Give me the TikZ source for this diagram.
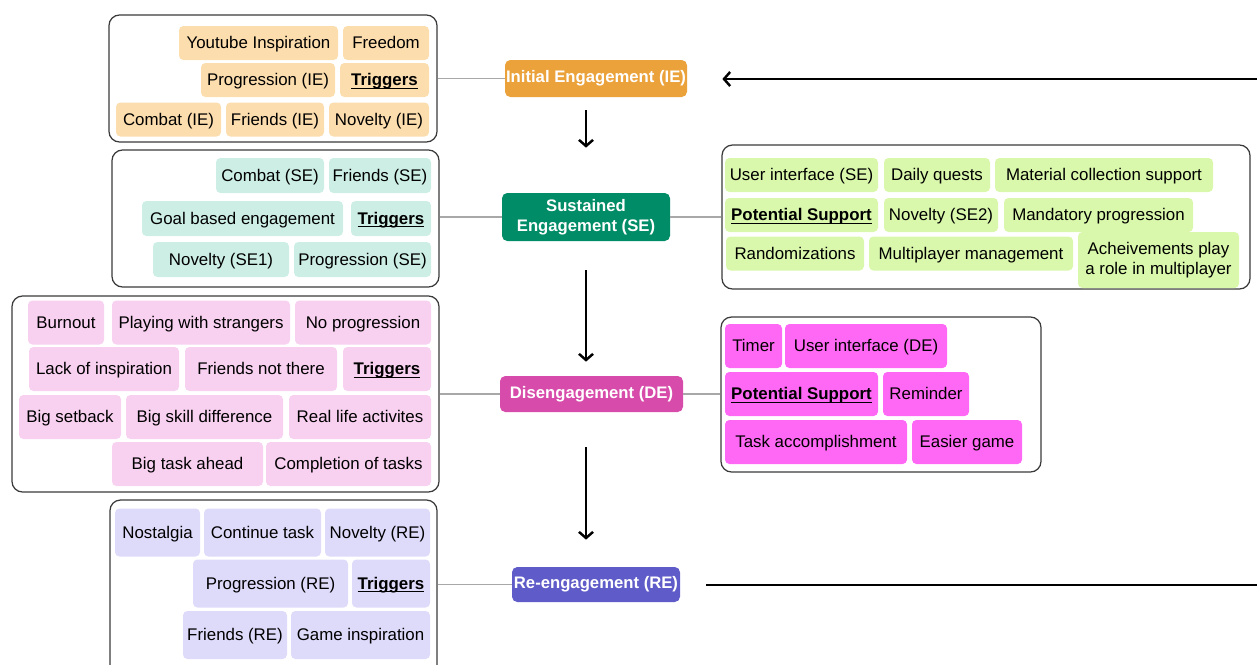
\documentclass[tikz,border=0pt]{standalone}
\usepackage{fontspec}
\setmainfont{Liberation Sans}
\usepackage{tikz}
\usetikzlibrary{arrows.meta,positioning,calc}

\definecolor{ieMain}{HTML}{EBA23A}
\definecolor{ieLight}{HTML}{FCDDAE}
\definecolor{seMain}{HTML}{008C66}
\definecolor{seLight}{HTML}{CDEEE5}
\definecolor{sesLight}{HTML}{D9F8AC}
\definecolor{deMain}{HTML}{D74BAA}
\definecolor{deLight}{HTML}{F8D0F0}
\definecolor{desLight}{HTML}{FF68F5}
\definecolor{reMain}{HTML}{5F5BC8}
\definecolor{reLight}{HTML}{DEDAFA}
\definecolor{boxgray}{HTML}{3A3A3A}
\definecolor{linkgray}{HTML}{A8A8A8}

\newcommand{\keyword}[1]{\underline{\smash{\textbf{#1}}}}

\begin{document}
\begin{tikzpicture}[x=0.02cm, y=-0.02cm,
    > = {Straight Barb[length=3.5pt,width=8pt]},
    every node/.style={font=\fontsize{9.6}{11.5}\selectfont, align=center},
    wd/.style={minimum width=#1*0.02cm},
    ht/.style={minimum height=#1*0.02cm},
    pill/.style={rounded corners=2.5pt, inner sep=0pt, text height=8.2pt, text depth=1.6pt},
    iePill/.style={pill, fill=ieLight, ht=34},
    sePill/.style={pill, fill=seLight, ht=35},
    sesPill/.style={pill, fill=sesLight, ht=34},
    dePill/.style={pill, fill=deLight, ht=44},
    desPill/.style={pill, fill=desLight, ht=44},
    rePill/.style={pill, fill=reLight, ht=48},
    group/.style={draw=boxgray, line width=0.7pt, rounded corners=6pt, inner sep=0pt},
    stage/.style={rounded corners=3pt, text=white, inner sep=0pt,
        font=\fontsize{9.5}{11.5}\selectfont\bfseries},
    link/.style={draw=linkgray, line width=0.8pt},
    flow/.style={->, line width=1.4pt}]
    \useasboundingbox (0,0) rectangle (1257,664);

    % group frames
    \node[group, wd=328, ht=127] (ieBox) at (273,78.5) {};
    \node[group, wd=327, ht=137] (seBox) at (275.5,218.5) {};
    \node[group, wd=528, ht=144] (sesBox) at (986,217) {};
    \node[group, wd=427, ht=196] (deBox) at (225.5,394) {};
    \node[group, wd=320, ht=155] (desBox) at (881,394.5) {};
    \node[group, wd=327, ht=200] (reBox) at (273.5,600) {};

    % stages
    \node[stage, fill=ieMain, wd=182, ht=37] (ie) at (596,78.5) {Initial Engagement (IE)};
    \node[stage, fill=seMain, wd=168, ht=48] (se) at (586,217) {Sustained\\Engagement (SE)};
    \node[stage, fill=deMain, wd=183, ht=36] (de) at (591.5,394) {Disengagement (DE)};
    \node[stage, fill=reMain, wd=168, ht=35] (re) at (596,584.5) {Re-engagement (RE)};

    % initial engagement triggers
    \node[iePill, wd=159] (ytInsp) at (258.5,43) {Youtube Inspiration};
    \node[iePill, wd=86] (freedom) at (386,43) {Freedom};
    \node[iePill, wd=134] (progIE) at (268,80) {Progression (IE)};
    \node[iePill, wd=89] (trigIE) at (384.5,80) {\keyword{Triggers}};
    \node[iePill, wd=105] (combatIE) at (168.5,119.5) {Combat (IE)};
    \node[iePill, wd=98] (friendsIE) at (275,119.5) {Friends (IE)};
    \node[iePill, wd=100] (noveltyIE) at (379,119.5) {Novelty (IE)};

    % sustained engagement triggers
    \node[sePill, wd=108] (combatSE) at (270,175.5) {Combat (SE)};
    \node[sePill, wd=102] (friendsSE) at (380,175.5) {Friends (SE)};
    \node[sePill, wd=201] (goalSE) at (242.5,218.5) {Goal based engagement};
    \node[sePill, wd=80] (trigSE) at (391,218.5) {\keyword{Triggers}};
    \node[sePill, wd=136] (noveltySE1) at (221,259.5) {Novelty (SE1)};
    \node[sePill, wd=137] (progSE) at (362.5,259.5) {Progression (SE)};

    % sustained engagement support
    \node[sesPill, wd=153] (uiSE) at (801.5,175) {User interface (SE)};
    \node[sesPill, wd=106] (daily) at (937,175) {Daily quests};
    \node[sesPill, wd=218] (material) at (1104,175) {Material collection support};
    \node[sesPill, wd=153] (potSE) at (801.5,215) {\keyword{Potential Support}};
    \node[sesPill, wd=114] (noveltySE2) at (941,215) {Novelty (SE2)};
    \node[sesPill, wd=189] (mandatory) at (1098.5,215) {Mandatory progression};
    \node[sesPill, wd=138] (random) at (795,253.5) {Randomizations};
    \node[sesPill, wd=204] (multi) at (971,253.5) {Multiplayer management};
    \node[sesPill, wd=161, ht=56, text height={}, text depth={}] (achieve) at (1158.5,260)
        {Acheivements play\\a role in multiplayer};

    % disengagement triggers
    \node[dePill, wd=76] (burnout) at (66,322.5) {Burnout};
    \node[dePill, wd=178] (strangers) at (201,322.5) {Playing with strangers};
    \node[dePill, wd=136] (noProg) at (363,322.5) {No progression};
    \node[dePill, wd=150] (lack) at (104,369) {Lack of inspiration};
    \node[dePill, wd=152] (friendsNot) at (261,369) {Friends not there};
    \node[dePill, wd=88] (trigDE) at (387,369) {\keyword{Triggers}};
    \node[dePill, wd=102] (setback) at (70,417) {Big setback};
    \node[dePill, wd=157] (skill) at (204.5,417) {Big skill difference};
    \node[dePill, wd=142] (realLife) at (360,417) {Real life activites};
    \node[dePill, wd=151] (bigTask) at (187.5,464) {Big task ahead};
    \node[dePill, wd=165] (completion) at (348.5,464) {Completion of tasks};

    % disengagement support
    \node[desPill, wd=57] (timer) at (753.5,346) {Timer};
    \node[desPill, wd=162] (uiDE) at (866,346) {User interface (DE)};
    \node[desPill, wd=153] (potDE) at (801.5,394) {\keyword{Potential Support}};
    \node[desPill, wd=86] (reminder) at (926,394) {Reminder};
    \node[desPill, wd=182] (taskAcc) at (816,442) {Task accomplishment};
    \node[desPill, wd=110] (easier) at (967,442) {Easier game};

    % re-engagement triggers
    \node[rePill, wd=85] (nostalgia) at (157.5,532.5) {Nostalgia};
    \node[rePill, wd=117] (continue) at (262.5,532.5) {Continue task};
    \node[rePill, wd=105] (noveltyRE) at (377.5,532.5) {Novelty (RE)};
    \node[rePill, wd=155] (progRE) at (270.5,583.5) {Progression (RE)};
    \node[rePill, wd=78] (trigRE) at (391,583.5) {\keyword{Triggers}};
    \node[rePill, wd=104] (friendsRE) at (235,635) {Friends (RE)};
    \node[rePill, wd=139] (gameInsp) at (360.5,635) {Game inspiration};

    % links to frames
    \draw[link] (ieBox.east |- ie.west) -- (ie.west);
    \draw[link] (seBox.east |- se.west) -- (se.west);
    \draw[link] (se.east) -- (sesBox.west |- se.east);
    \draw[link] (deBox.east |- de.west) -- (de.west);
    \draw[link] (de.east) -- (desBox.west |- de.east);
    \draw[link] (reBox.east |- re.west) -- (re.west);

    % stage flow
    \draw[flow, shorten <=0.26cm, shorten >=0.9cm] (ie.south -| se.north) -- (se.north);
    \draw[flow, shorten <=0.58cm, shorten >=0.28cm] (se.south) -- (se.south |- de.north);
    \draw[flow, shorten <=0.7cm, shorten >=0.54cm] (se.south |- de.south) -- (se.south |- re.north);

    \coordinate (loopTop) at (1257,79);
    \coordinate (loopBot) at (1257,585);
    \draw[flow, shorten >=0.7cm] (loopTop) -- (loopTop -| ie.east);
    \draw[line width=1.4pt, shorten <=0.52cm] (re.east |- loopBot) -- (loopBot);
\end{tikzpicture}
\end{document}
